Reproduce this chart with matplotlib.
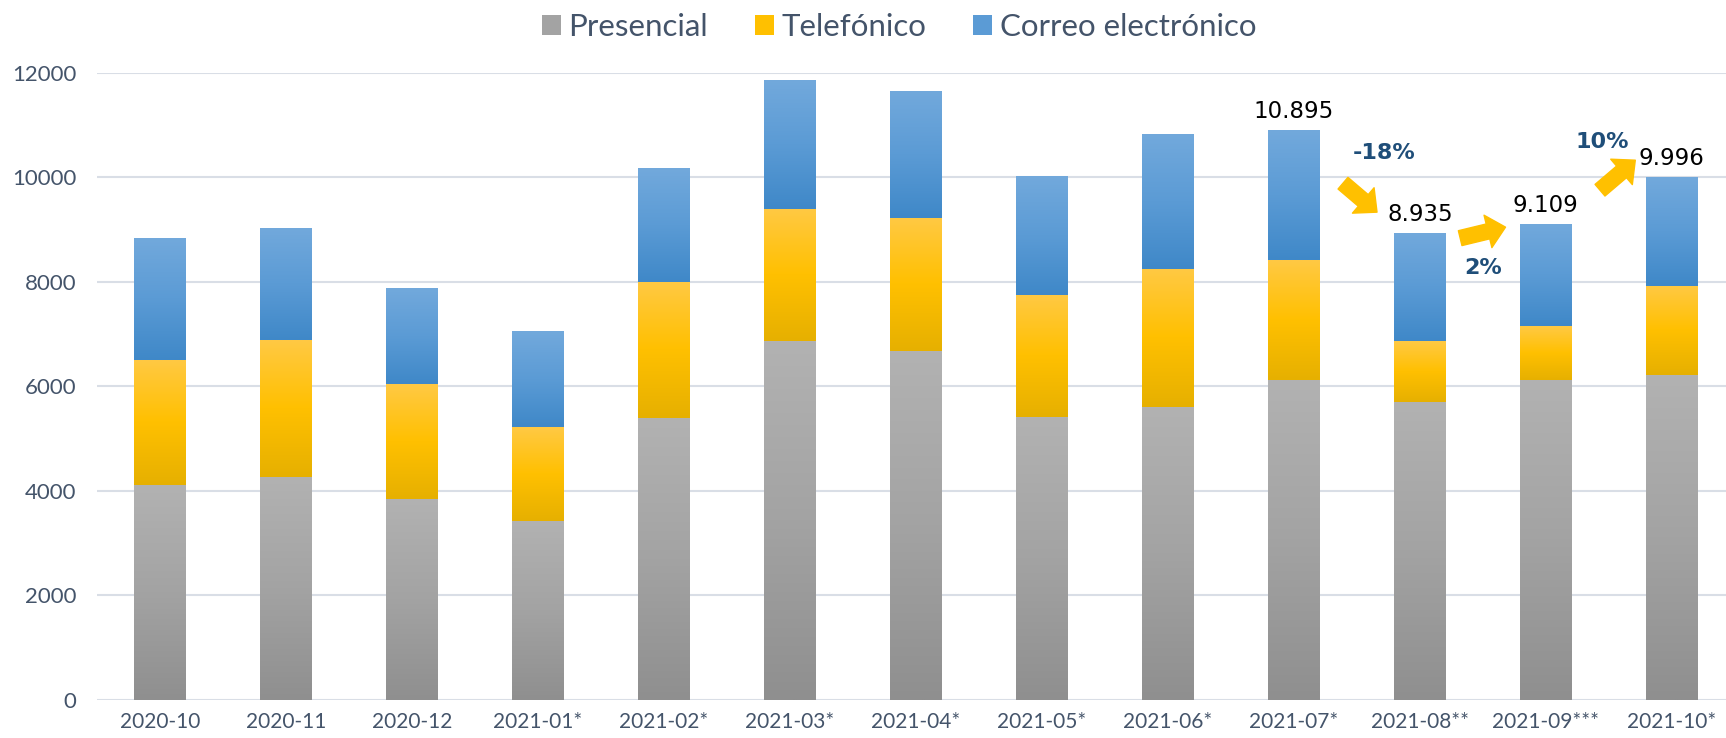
import numpy as np
import matplotlib
matplotlib.use("Agg")
import matplotlib.pyplot as plt
from matplotlib.colors import LinearSegmentedColormap
from matplotlib.patches import Patch

months = ["2020-10", "2020-11", "2020-12", "2021-01*", "2021-02*", "2021-03*", "2021-04*",
          "2021-05*", "2021-06*", "2021-07*", "2021-08**", "2021-09***", "2021-10*"]
presencial = [4105, 4274, 3853, 3432, 5389, 6863, 6674, 5411, 5600, 6126, 5705, 6126, 6211]
telefonico = [2400, 2610, 2189, 1789, 2611, 2526, 2547, 2336, 2653, 2295, 1158, 1032, 1705]
correo = [2337, 2148, 1832, 1832, 2168, 2464, 2421, 2274, 2568, 2474, 2072, 1951, 2080]
labelled = [9, 10, 11, 12]

series = [
    ("Presencial", presencial, ["#8f8f8f", "#a3a3a3", "#b2b2b2"]),
    ("Telefónico", telefonico, ["#e6b000", "#ffc000", "#ffc944"]),
    ("Correo electrónico", correo, ["#3f88c8", "#5b9bd5", "#72a9dc"]),
]
text_col = "#44546a"

fig = plt.figure(figsize=(17.26, 7.38), dpi=100)
ax = fig.add_axes([0.0562, 0.0515, 0.9438, 0.8501])
x = np.arange(len(months))
bottom = np.zeros(len(months))
grad = np.linspace(0, 1, 256).reshape(-1, 1)
handles = []
for name, vals, cols in series:
    cmap = LinearSegmentedColormap.from_list(name, cols)
    bars = ax.bar(x, vals, width=0.41, bottom=bottom, color=cols[1], zorder=2, linewidth=0)
    for b in bars:
        x0, y0 = b.get_x(), b.get_y()
        im = ax.imshow(grad, cmap=cmap, origin="lower", aspect="auto", zorder=3,
                       extent=[x0, x0 + b.get_width(), y0, y0 + b.get_height()])
        im.set_clip_path(b)
    bottom = bottom + np.array(vals)
    handles.append(Patch(facecolor=cols[1], label=name))

totals = bottom
ax.set_xlim(-0.5, 12.43)
ax.set_ylim(0, 12000)
ax.set_yticks(range(0, 12001, 2000))
ax.set_xticks(x)
ax.set_xticklabels(months)
ax.grid(axis="y", color="#d9dee6", linewidth=1.5, zorder=0)
ax.set_axisbelow(True)
for s in ax.spines.values():
    s.set_visible(False)
ax.tick_params(axis="y", length=0, pad=15, labelsize=16, labelcolor=text_col)
ax.tick_params(axis="x", length=0, pad=9, labelsize=15, labelcolor=text_col)
for lab in ax.get_xticklabels() + ax.get_yticklabels():
    lab.set_family("Lato")

for i in labelled:
    ax.annotate(f"{int(totals[i]):,}".replace(",", "."), (x[i], totals[i]),
                xytext=(0, 5), textcoords="offset points", ha="center", va="bottom",
                fontsize=16.5, color="black", family="DejaVu Sans")

# change arrows between the last months
arrow_tails = [(9.39, 9885), (10.32, 8834), (11.43, 9751)]
arrow_heads = [(9.66, 9331), (10.68, 9044), (11.71, 10325)]
pct_pos = [(9.72, 10459), (10.50, 8260), (11.45, 10669)]
for k in range(3):
    a, b = labelled[k], labelled[k + 1]
    pct = (totals[b] - totals[a]) / totals[a] * 100
    ax.annotate("", xy=arrow_heads[k], xytext=arrow_tails[k],
                arrowprops=dict(arrowstyle="simple,head_length=0.65,head_width=1.2,tail_width=0.55",
                                color="#ffc000", mutation_scale=20, shrinkA=0, shrinkB=0))
    ax.text(*pct_pos[k], f"{pct:.0f}%", ha="center", va="center", fontsize=16,
            fontweight="bold", color="#1f4e79", family="DejaVu Sans")

leg = fig.legend(handles=handles, loc="center", bbox_to_anchor=(0.521, 0.963), ncol=3,
                 frameon=False, handlelength=0.6, handleheight=0.6, handletextpad=0.25,
                 columnspacing=1.5, prop={"family": "Lato", "size": 22.5})
for t in leg.get_texts():
    t.set_color(text_col)

fig.savefig("out.png", dpi=100)
